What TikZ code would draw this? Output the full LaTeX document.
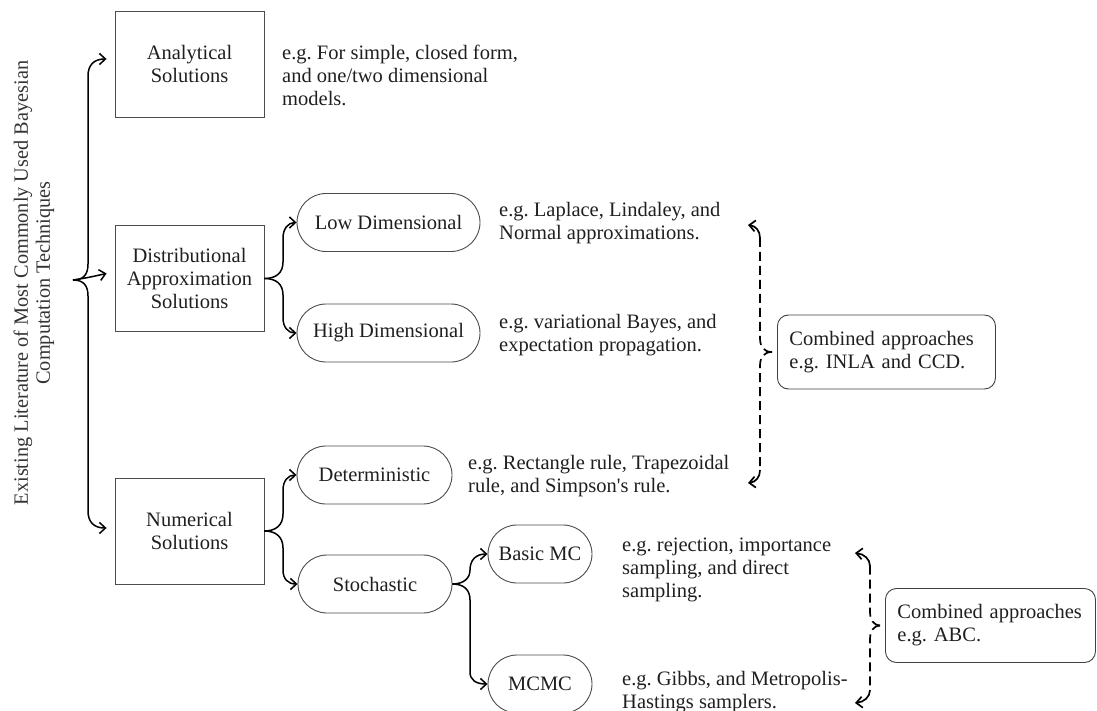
\documentclass[tikz,border=0pt]{standalone}
\usepackage{fontspec}
\setmainfont{Liberation Serif}
\usetikzlibrary{arrows.meta,calc}
\frenchspacing
\begin{document}
\begin{tikzpicture}[x=1pt,y=-1pt,
  every node/.style={font=\fontsize{20.5}{23}\selectfont, text=black!88, inner sep=0pt},
  sq/.style={draw=black!70, line width=0.9pt, minimum width=149pt, minimum height=106pt, align=center},
  pill/.style={draw=black!70, line width=0.9pt, rounded corners=29pt, minimum height=58pt, align=center},
  note/.style={align=left, anchor=west},
  cbox/.style={draw=black!75, line width=0.9pt, rounded corners=11pt, minimum height=74pt, align=left, anchor=west, inner xsep=12pt},
  br/.style={line width=1.5pt, -{Straight Barb[length=6pt,width=11pt]}},
  dline/.style={line width=1.7pt, dash pattern=on 9pt off 5pt},
  dtip/.style={line width=1.7pt, -{Straight Barb[length=6pt,width=11pt]}},
]
\useasboundingbox (0,0) rectangle (1097,711);

% title
\node[rotate=90, align=center, font=\fontsize{20.3}{22}\selectfont, text=black!80] (title) at (34,283)
  {Existing Literature of Most Commonly Used Bayesian\\Computation Techniques};

% main boxes
\node[sq] (ana) at (189.5,64) {Analytical\\Solutions};
\node[sq] (dist) at (189.5,278.5) {Distributional\\Approximation\\Solutions};
\node[sq] (num) at (189.5,531) {Numerical\\Solutions};

% pills
\node[pill, minimum width=183pt] (low) at (388.5,222.5) {Low Dimensional};
\node[pill, minimum width=183pt] (high) at (388.5,333) {High Dimensional};
\node[pill, minimum width=155pt] (det) at (374.5,475) {Deterministic};
\node[pill, minimum width=154pt] (sto) at (375,584) {Stochastic};
\node[pill, minimum width=104pt] (bmc) at (540,554) {Basic MC};
\node[pill, minimum width=104pt] (mcmc) at (540,684) {MCMC};

% notes
\node[note] (tana) at (282,75) {e.g. For simple, closed form,\\and one/two dimensional\\models.};
\node[note] (tlow) at (499,223) {e.g. Laplace, Lindaley, and\\Normal approximations.};
\node[note] (thigh) at (499,335) {e.g. variational Bayes, and\\expectation propagation.};
\node[note] (tdet) at (468,476) {e.g. Rectangle rule, Trapezoidal\\rule, and Simpson\textquotesingle s rule.};
\node[note] (tbmc) at (622,570) {e.g. rejection, importance\\sampling, and direct\\sampling.};
\node[note] (tmcmc) at (622,692) {e.g. Gibbs, and Metropolis-\\Hastings samplers.};

% combined boxes
\node[cbox, text width=194pt] (comb1) at (777,352) {Combined approaches\\e.g. INLA and CCD.};
\node[cbox, text width=186pt] (comb2) at (885,625.5) {Combined approaches\\e.g. ABC.};

% left brace
\coordinate (c0) at (73,280);
\draw[br] (c0) .. controls (84,280) and (88,274) .. (88,264) -- (88,76) .. controls (88,65) and (94,59) .. ($(ana.west)+(-8,-5)$);
\draw[br] (c0) .. controls (84,280) and (88,286) .. (88,296) -- (88,511) .. controls (88,522) and (94,528) .. ($(num.west)+(-8,-3)$);
\draw[br] (c0) .. controls (86,278) .. ($(dist.west)+(-8,-5)$);

% distributional brace
\draw[br] (dist.east) .. controls (276,278.5) and (283,273) .. (283,262) -- (283,238) .. controls (283,229) and (288,222.5) .. (low.west);
\draw[br] (dist.east) .. controls (276,278.5) and (283,284) .. (283,295) -- (283,318) .. controls (283,327) and (288,333) .. (high.west);

% numerical brace
\draw[br] (num.east) .. controls (276,531) and (283,525) .. (283,514) -- (283,490) .. controls (283,481) and (288,475) .. (det.west);
\draw[br] (num.east) .. controls (276,531) and (283,537) .. (283,548) -- (283,570) .. controls (283,579) and (288,584) .. (sto.west);

% stochastic brace
\draw[br] (sto.east) .. controls (464,584) and (470,578) .. (470,570) .. controls (470,560) and (476,554) .. (bmc.west);
\draw[br] (sto.east) .. controls (464,584) and (470,590) .. (470,600) -- (470,672) .. controls (470,680) and (476,684) .. (mcmc.west);

% dashed bracket 1
\coordinate (d1a) at (748,225);
\coordinate (d1b) at (748,483);
\coordinate (k1) at ($(comb1.west)+(-5,0)$);
\coordinate (e1a) at (760,238);
\coordinate (e1b) at (760,470);
\draw[dline] (k1) .. controls (764,352) and (760,347) .. (760,338) -- (e1a);
\draw[dline] (k1) .. controls (764,352) and (760,357) .. (760,366) -- (e1b);
\draw[dtip] (e1a) .. controls (760,231) and (756,226) .. (d1a);
\draw[dtip] (e1b) .. controls (760,477) and (756,482) .. (d1b);

% dashed bracket 2
\coordinate (d2a) at (855,553);
\coordinate (d2b) at (855,703);
\coordinate (k2) at ($(comb2.west)+(-5,0)$);
\coordinate (e2a) at (870,566);
\coordinate (e2b) at (870,690);
\draw[dline] (k2) .. controls (874,625.5) and (870,620) .. (870,612) -- (e2a);
\draw[dline] (k2) .. controls (874,625.5) and (870,631) .. (870,639) -- (e2b);
\draw[dtip] (e2a) .. controls (870,559) and (864,554) .. (d2a);
\draw[dtip] (e2b) .. controls (870,697) and (864,702) .. (d2b);
\end{tikzpicture}
\end{document}
